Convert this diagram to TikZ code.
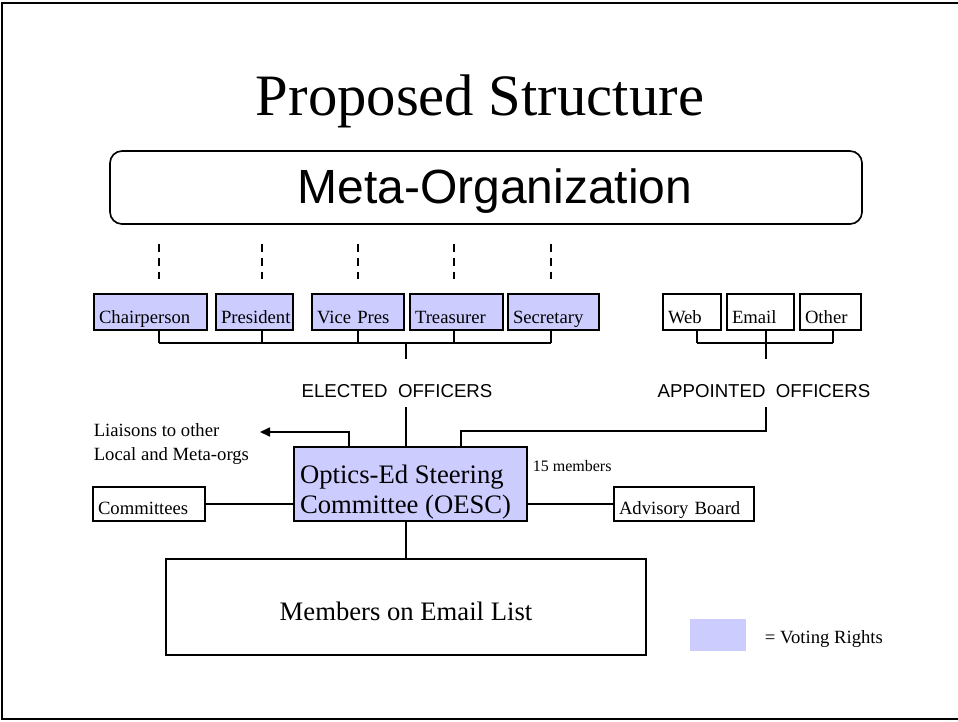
\documentclass[tikz,border=0pt]{standalone}
\usepackage{fontspec}
\setmainfont{Liberation Serif}
\setsansfont{Liberation Sans}
\usetikzlibrary{arrows.meta}
\definecolor{vote}{HTML}{CCCCFF}
\hyphenpenalty=10000

\begin{document}
\begin{tikzpicture}[x=0.75pt,y=-0.75pt,line width=1.25pt,
    conn/.style={line width=1.25pt},
    plain/.style={inner sep=0pt},
    post/.style={draw,line width=1.25pt,inner xsep=3.75pt,inner ysep=0pt,text height=21.75pt,text depth=5.25pt,align=left,font=\fontsize{14}{16}\selectfont},
    voter/.style={post,fill=vote},
    side/.style={post,text height=20.25pt,text depth=5.25pt},
    group label/.style={fill=white,inner xsep=2pt,inner ysep=0pt,text height=28.5pt,text depth=7.5pt,font=\sffamily\fontsize{14}{16}\selectfont},
    dashline/.style={line width=1.2pt,dash pattern=on 6pt off 4.5pt}]

    \useasboundingbox (0,0) rectangle (958,722);
    \draw[line width=1.8pt] (958,3) -- (2,3) -- (2,719) -- (958,719);

    \node[plain,anchor=base,font=\fontsize{44}{48}\selectfont] (title) at (480,115) {Proposed Structure};
    \node[draw,rounded corners=9pt,inner sep=0pt,text width=564pt,align=center,text height=39pt,text depth=15.75pt,font=\sffamily\fontsize{36}{40}\selectfont] (meta) at (486,187.5) {\hspace*{13.5pt}Meta-Organization};

    \node[voter,text width=77.25pt] (chair) at (150.5,312) {Chairperson};
    \node[voter,text width=50.25pt] (pres) at (254.5,312) {President};
    \node[voter,text width=61.5pt] (vice) at (358,312) {Vice Pres};
    \node[voter,text width=62.25pt] (treas) at (456.5,312) {Treasurer};
    \node[voter,text width=60.75pt] (secr) at (553.5,312) {Secretary};

    \node[post,text width=36pt] (web) at (692,312) {Web};
    \node[post,text width=42.75pt] (email) at (760.5,312) {Email};
    \node[post,text width=38.25pt] (other) at (830.5,312) {Other};

    \node[draw,fill=vote,inner xsep=4.5pt,inner ysep=0pt,text height=49.5pt,text depth=6pt,font=\fontsize{20}{22.5}\selectfont] (oesc) at (410.5,484) {\parbox[b]{165.75pt}{Optics-Ed Steering\\Committee (OESC)}};
    \node[plain,anchor=base west,font=\fontsize{12}{14}\selectfont] (seats) at (532,471) {15 members};

    \node[side,text width=76.5pt] (cmte) at (149,504) {Committees};
    \node[side,text width=97.5pt] (advis) at (684,504) {Advisory Board};
    \node[plain,anchor=base west,font=\fontsize{14}{18}\selectfont] (liais) at (93,436) {\parbox[t]{120pt}{Liaisons to other\\Local and Meta-orgs}};

    \node[draw,minimum width=360pt,inner ysep=0pt,text height=45.75pt,text depth=26.25pt,font=\fontsize{20}{24}\selectfont] (members) at (406,607) {Members on Email List};

    \node[fill=vote,minimum width=42pt,minimum height=24pt,inner sep=0pt] (swatch) at (718,635) {};
    \node[plain,anchor=base west,font=\fontsize{14}{16}\selectfont] (votelbl) at (764,643) {= Voting Rights};

    \coordinate (e1) at (159,343);
    \coordinate (e2) at (262,343);
    \coordinate (e3) at (358,343);
    \coordinate (e4) at (454,343);
    \coordinate (e5) at (551,343);
    \coordinate (elec) at (406,343);
    \coordinate (a1) at (697,343);
    \coordinate (a2) at (766,343);
    \coordinate (a3) at (833,343);
    \coordinate (ljoin) at ([xshift=42pt]oesc.north west);
    \coordinate (rjoin) at ([xshift=126pt]oesc.north west);
    \coordinate (liaistip) at (260,432);

    \foreach \i/\n in {1/chair,2/pres,3/vice,4/treas,5/secr}{
        \draw[dashline] ([yshift=-14.25pt]meta.south -| e\i) -- ([yshift=10.5pt]\n.north -| e\i);
        \draw[conn] (\n.south -| e\i) -- (e\i);
    }
    \draw[conn] (e1) -- (e5);
    \draw[conn] (elec) -- (elec |- oesc.north);

    \foreach \i/\n in {1/web,2/email,3/other}
        \draw[conn] (\n.south -| a\i) -- (a\i);
    \draw[conn] (a1) -- (a3);
    \draw[conn] (a2) -- ++(0,88) -| (rjoin);

    \draw[conn,-{Triangle[length=7.5pt,width=6.75pt]}] (ljoin) |- (liaistip);
    \draw[conn] (cmte.east) -- (cmte.east -| oesc.west);
    \draw[conn] (advis.west) -- (advis.west -| oesc.east);
    \draw[conn] (oesc.south -| members.north) -- (members.north);

    \node[group label,anchor=base] (elected) at (397,397) {ELECTED\ \ OFFICERS};
    \node[group label,anchor=base] (appointed) at (764,397) {APPOINTED\ \ OFFICERS};
\end{tikzpicture}
\end{document}
